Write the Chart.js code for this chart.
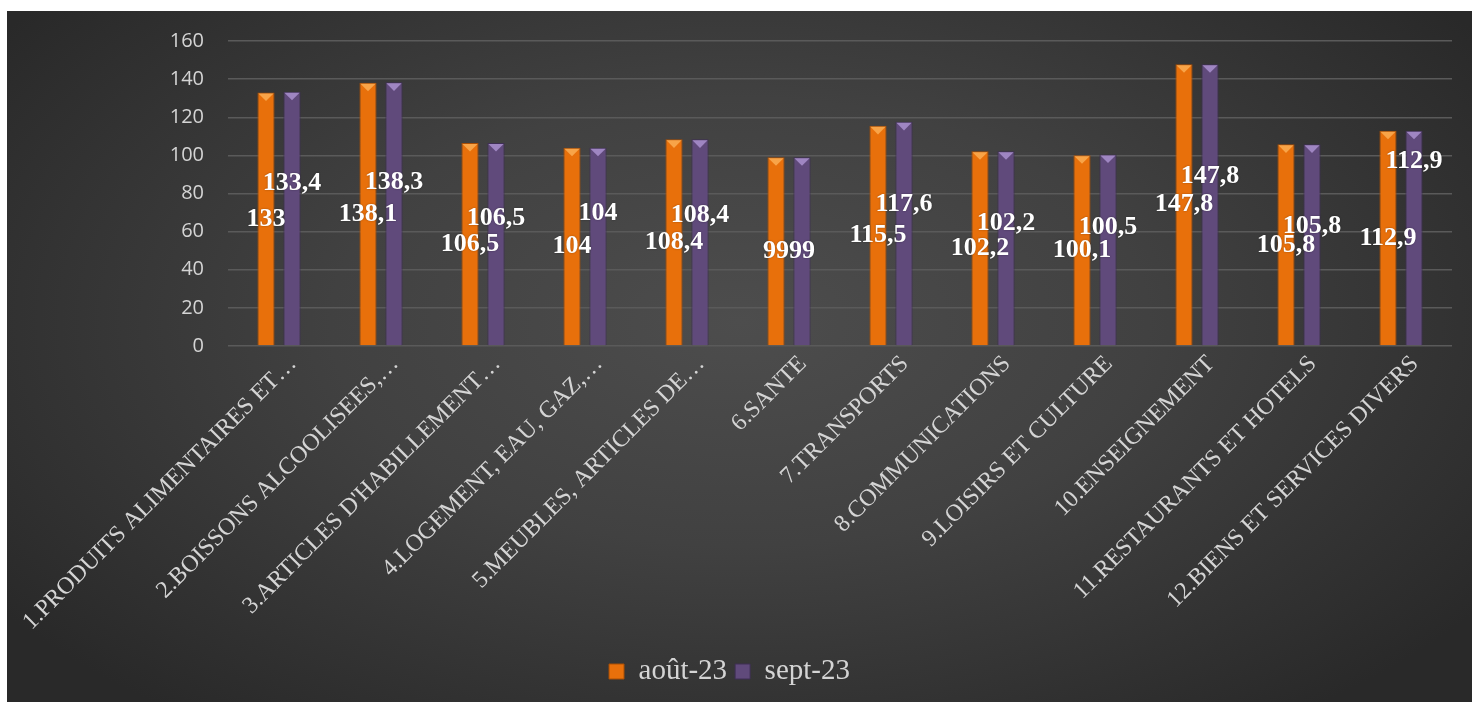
<!DOCTYPE html>
<html>
<head>
<meta charset="utf-8">
<script src="https://cdn.jsdelivr.net/npm/chart.js@4"></script>
<style>
  html, body { margin: 0; padding: 0; background: #fff; }
  #wrap {
    position: absolute; left: 7px; top: 11px; width: 1465px; height: 691px; overflow: hidden;
    background: radial-gradient(ellipse 62% 72% at 50% 45%, #4d4d4d 0%, #414141 45%, #292929 100%);
  }
  #inner { position: absolute; left: 0; top: -6px; width: 1465px; height: 698px; }
</style>
</head>
<body>
<div id="wrap"><div id="inner"><canvas id="chart"></canvas></div></div>
<script>
/**
 * Data
 */
const categories = [
  "1.PRODUITS ALIMENTAIRES ET…",
  "2.BOISSONS ALCOOLISEES,…",
  "3.ARTICLES D'HABILLEMENT…",
  "4.LOGEMENT, EAU, GAZ,…",
  "5.MEUBLES, ARTICLES DE…",
  "6.SANTE",
  "7.TRANSPORTS",
  "8.COMMUNICATIONS",
  "9.LOISIRS ET CULTURE",
  "10.ENSEIGNEMENT",
  "11.RESTAURANTS ET HOTELS",
  "12.BIENS ET SERVICES DIVERS"
];
const seriesNames = ["août-23", "sept-23"];
const aout23 = [133, 138.1, 106.5, 104, 108.4, 99, 115.5, 102.2, 100.1, 147.8, 105.8, 112.9];
const sept23 = [133.4, 138.3, 106.5, 104, 108.4, 99, 117.6, 102.2, 100.5, 147.8, 105.8, 112.9];
const yTicks = [0, 20, 40, 60, 80, 100, 120, 140, 160];

/**
 * Styles
 */
const fills = ["#e8700b", "#604a7b"];
const edges = ["#a94e05", "#3f2f55"];
const tops = ["#f8a448", "#9f86c2"];
// Hauteur relative des étiquettes dans la barre (orange au centre, violet déplacé à la main dans l'original)
const orangeLift = 0.5;
const purpleLift = [0.64, 0.62, 0.63, 0.67, 0.63, 0.5, 0.63, 0.63, 0.62, 0.6, 0.59, 0.86];

// Petit triangle clair en haut de chaque barre (effet biseau)
const bevelPlugin = {
  id: 'bevel',
  afterDatasetsDraw(chart) {
    const ctx = chart.ctx;
    chart.data.datasets.forEach((ds, i) => {
      chart.getDatasetMeta(i).data.forEach((bar) => {
        const { x, y, width } = bar.getProps(['x', 'y', 'width'], true);
        ctx.save();
        ctx.fillStyle = tops[i];
        ctx.beginPath();
        ctx.moveTo(x - width / 2 + 1, y + 1);
        ctx.lineTo(x + width / 2 - 1, y + 1);
        ctx.lineTo(x, y + width * 0.5);
        ctx.closePath();
        ctx.fill();
        ctx.restore();
      });
    });
  }
};

// Étiquettes de valeurs (format français avec virgule)
const valueLabelPlugin = {
  id: 'valueLabels',
  afterDatasetsDraw(chart) {
    const ctx = chart.ctx;
    ctx.save();
    ctx.font = 'bold 26px "Liberation Serif", "Times New Roman", serif';
    ctx.fillStyle = '#ffffff';
    ctx.textAlign = 'center';
    ctx.textBaseline = 'middle';
    ctx.shadowColor = 'rgba(0,0,0,0.35)';
    ctx.shadowBlur = 2;
    chart.data.datasets.forEach((ds, i) => {
      chart.getDatasetMeta(i).data.forEach((bar, j) => {
        const { x, y, base } = bar.getProps(['x', 'y', 'base'], true);
        const lift = i === 0 ? orangeLift : purpleLift[j];
        const ly = base + (y - base) * lift;
        ctx.fillText(String(ds.data[j]).replace('.', ','), x, ly);
      });
    });
    ctx.restore();
  }
};

const ctx = document.getElementById('chart').getContext('2d');
const chart = new Chart(ctx, {
  type: 'bar',
  data: {
    labels: categories,
    datasets: [aout23, sept23].map((values, i) => ({
      label: seriesNames[i],
      data: values,
      backgroundColor: fills[i],
      borderColor: edges[i],
      borderWidth: 1,
      categoryPercentage: 0.51,
      barPercentage: 0.66
    }))
  },
  options: {
    responsive: true,
    maintainAspectRatio: false,
    animation: false,
    layout: { padding: { left: 0, top: 23, right: 20, bottom: 7 } },
    plugins: {
      legend: {
        position: 'bottom',
        labels: {
          color: '#d4d4d4',
          font: { family: '"Liberation Serif", "Times New Roman", serif', size: 29 },
          boxWidth: 15,
          boxHeight: 15,
          padding: 8
        }
      },
      tooltip: { enabled: false }
    },
    scales: {
      x: {
        grid: { display: false },
        border: { display: false },
        ticks: {
          color: '#d4d4d4',
          font: { family: '"Liberation Serif", "Times New Roman", serif', size: 24 },
          minRotation: 45,
          maxRotation: 45,
          autoSkip: false,
          padding: -4,
          labelOffset: 14
        },
        afterFit: (scale) => {
          scale.height = 303;
          scale.paddingLeft = 0;
          scale.paddingRight = 0;
        }
      },
      y: {
        min: yTicks[0],
        max: yTicks[yTicks.length - 1],
        afterBuildTicks: (scale) => { scale.ticks = yTicks.map(v => ({ value: v })); },
        grid: { color: '#5a5a5a', lineWidth: 1.5, drawTicks: false },
        border: { display: false },
        ticks: {
          color: '#d4d4d4',
          font: { family: '"Open Sans", sans-serif', size: 20 },
          padding: 24
        },
        afterFit: (scale) => { scale.width = 221; }
      }
    }
  },
  plugins: [bevelPlugin, valueLabelPlugin]
});
</script>
</body>
</html>
